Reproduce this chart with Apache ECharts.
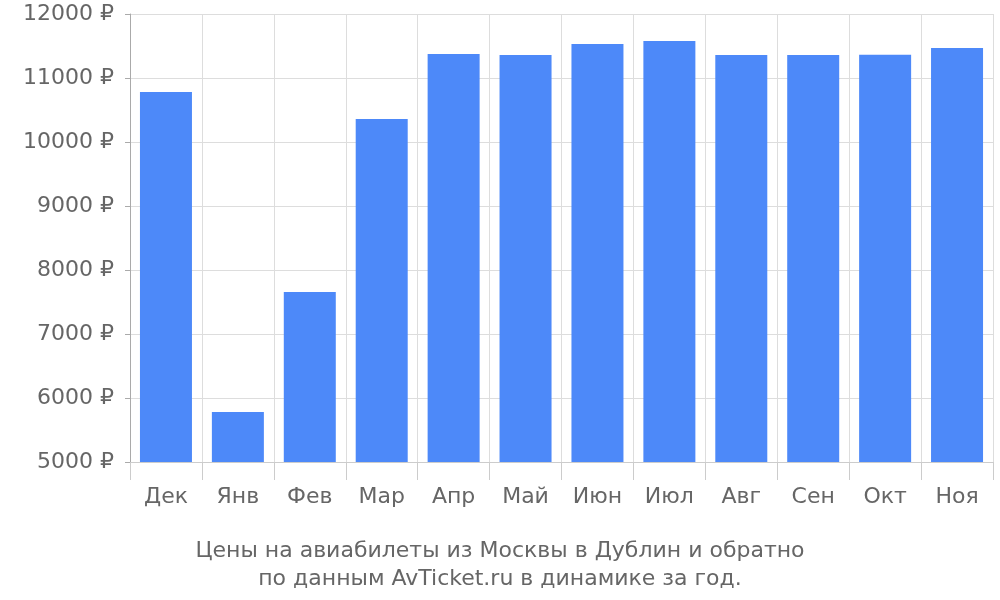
<!DOCTYPE html>
<html><head><meta charset="utf-8">
<script src="https://cdn.jsdelivr.net/npm/echarts@6/dist/echarts.min.js"></script>
<style>html,body{margin:0;padding:0;background:#fff}#c{width:1000px;height:600px}</style>
</head><body><div id="c"></div>
<script>
const categories = ['Дек','Янв','Фев','Мар','Апр','Май','Июн','Июл','Авг','Сен','Окт','Ноя'];
const prices = [10780, 5780, 7656, 10360, 11375, 11360, 11530, 11578, 11360, 11360, 11365, 11470];
const titleLines = ['Цены на авиабилеты из Москвы в Дублин и обратно', 'по данным AvTicket.ru в динамике за год.'];
const chart = echarts.init(document.getElementById('c'));
chart.setOption({
  animation: false,
  title: {text: titleLines.join('\n'), left: 'center', top: 532,
    textStyle: {fontFamily: 'DejaVu Sans', fontSize: 22, fontWeight: 'normal', color: '#666', lineHeight: 28}},
  grid: {left: 130, right: 7, top: 14, bottom: 138},
  xAxis: {type: 'category', data: categories,
    axisLine: {show: true, lineStyle: {color: '#ccc'}},
    axisTick: {show: true, length: 18, interval: 0, lineStyle: {color: '#ccc'}},
    splitLine: {show: true, interval: 0, lineStyle: {color: '#ddd'}},
    axisLabel: {fontFamily: 'DejaVu Sans', fontSize: 22, color: '#666', margin: 24}},
  yAxis: {type: 'value', min: 5000, max: 12000, interval: 1000,
    axisLine: {show: true, lineStyle: {color: '#aaa'}},
    axisTick: {show: true, length: 5, lineStyle: {color: '#aaa'}},
    splitLine: {lineStyle: {color: '#ddd'}},
    axisLabel: {fontFamily: 'DejaVu Sans', fontSize: 22, color: '#666', margin: 16, formatter: v => v + ' ₽'}},
  series: [{type: 'bar', data: prices, barWidth: 52, itemStyle: {color: '#4d89f9'}}]
});
</script></body></html>
